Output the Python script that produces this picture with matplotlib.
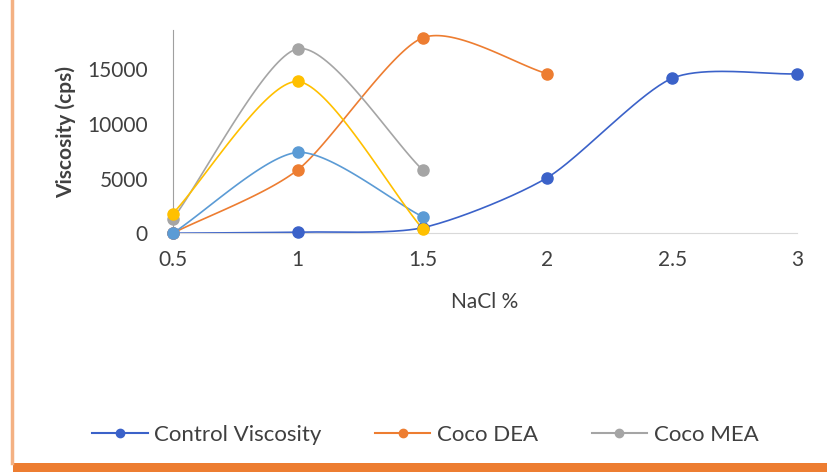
import numpy as np
import matplotlib.pyplot as plt

plt.rcParams["font.family"] = ["Lato", "DejaVu Sans"]

# data
nacl = [0.5, 1, 1.5, 2, 2.5, 3]
control = [0, 100, 500, 5100, 14200, 14600]
coco_dea = [0, 5800, 17900, 14600]
coco_mea = [1300, 16900, 5800]
series4 = [0, 7400, 1500]
series5 = [1800, 13900, 400]

series = [
    ("Control Viscosity", nacl, control, "#3B62C9"),
    ("Coco DEA", nacl[:4], coco_dea, "#ED7D31"),
    ("Coco MEA", nacl[:3], coco_mea, "#A5A5A5"),
    (None, nacl[:3], series4, "#5B9BD5"),
    (None, nacl[:3], series5, "#FFC000"),
]


def smooth(x, y, n=40, k=0.75):
    # Excel-like smoothed line (cardinal spline through the points)
    x = np.asarray(x, float)
    y = np.asarray(y, float)
    px = np.concatenate([[2 * x[0] - x[1]], x, [2 * x[-1] - x[-2]]])
    py = np.concatenate([[2 * y[0] - y[1]], y, [2 * y[-1] - y[-2]]])
    xs, ys = [], []
    t = np.linspace(0, 1, n)
    h00 = 2 * t ** 3 - 3 * t ** 2 + 1
    h10 = t ** 3 - 2 * t ** 2 + t
    h01 = -2 * t ** 3 + 3 * t ** 2
    h11 = t ** 3 - t ** 2
    for i in range(1, len(px) - 2):
        for p, out in ((px, xs), (py, ys)):
            m1 = k * (p[i + 1] - p[i - 1]) / 2
            m2 = k * (p[i + 2] - p[i]) / 2
            out.extend(h00 * p[i] + h10 * m1 + h01 * p[i + 1] + h11 * m2)
    return xs, ys


fig = plt.figure(figsize=(8.27, 4.72), dpi=100)
ax = fig.add_axes([0.209, 0.506, 0.755, 0.43])

for label, xs, ys, col in series:
    sx, sy = smooth(xs, ys)
    ax.plot(sx, sy, color=col, lw=1.2, clip_on=False, zorder=2)
    ax.plot(xs, ys, "o", color=col, ms=8, clip_on=False, zorder=3)
    if label:
        ax.plot([], [], "-o", color=col, lw=1.5, ms=6, label=label)

ax.set_xlim(0.5, 3)
ax.set_ylim(0, 18600)
ax.set_xticks(nacl)
ax.set_xticklabels(["0.5", "1", "1.5", "2", "2.5", "3"])
ax.set_yticks([0, 5000, 10000, 15000])
ax.tick_params(length=0, labelsize=15, colors="#404040")
ax.tick_params(axis="x", pad=12)
ax.tick_params(axis="y", pad=18)
for s in ["top", "right"]:
    ax.spines[s].set_visible(False)
ax.spines["left"].set_color("#A0A0A0")
ax.spines["bottom"].set_color("#D9D9D9")
ax.set_xlabel("NaCl %", fontsize=15, color="#404040", labelpad=16)
ax.set_ylabel("Viscosity (cps)", fontsize=15, fontweight="bold", color="#404040", labelpad=8)

fig.legend(loc="lower left", bbox_to_anchor=(0.087, 0.015), ncol=3, frameon=False,
           fontsize=16, labelcolor="#404040", handlelength=2.5, columnspacing=2.4,
           handletextpad=0.3)

# screenshot frame: thin orange line on the left, thick orange bar at the bottom
fig.add_artist(plt.Line2D([0.0145, 0.0145], [0.02, 1.0], color="#F4B183", lw=2.5))
fig.add_artist(plt.Rectangle((0.016, 0.0), 0.984, 0.02, color="#ED7D31", lw=0))

fig.savefig("out.png", dpi=100)
